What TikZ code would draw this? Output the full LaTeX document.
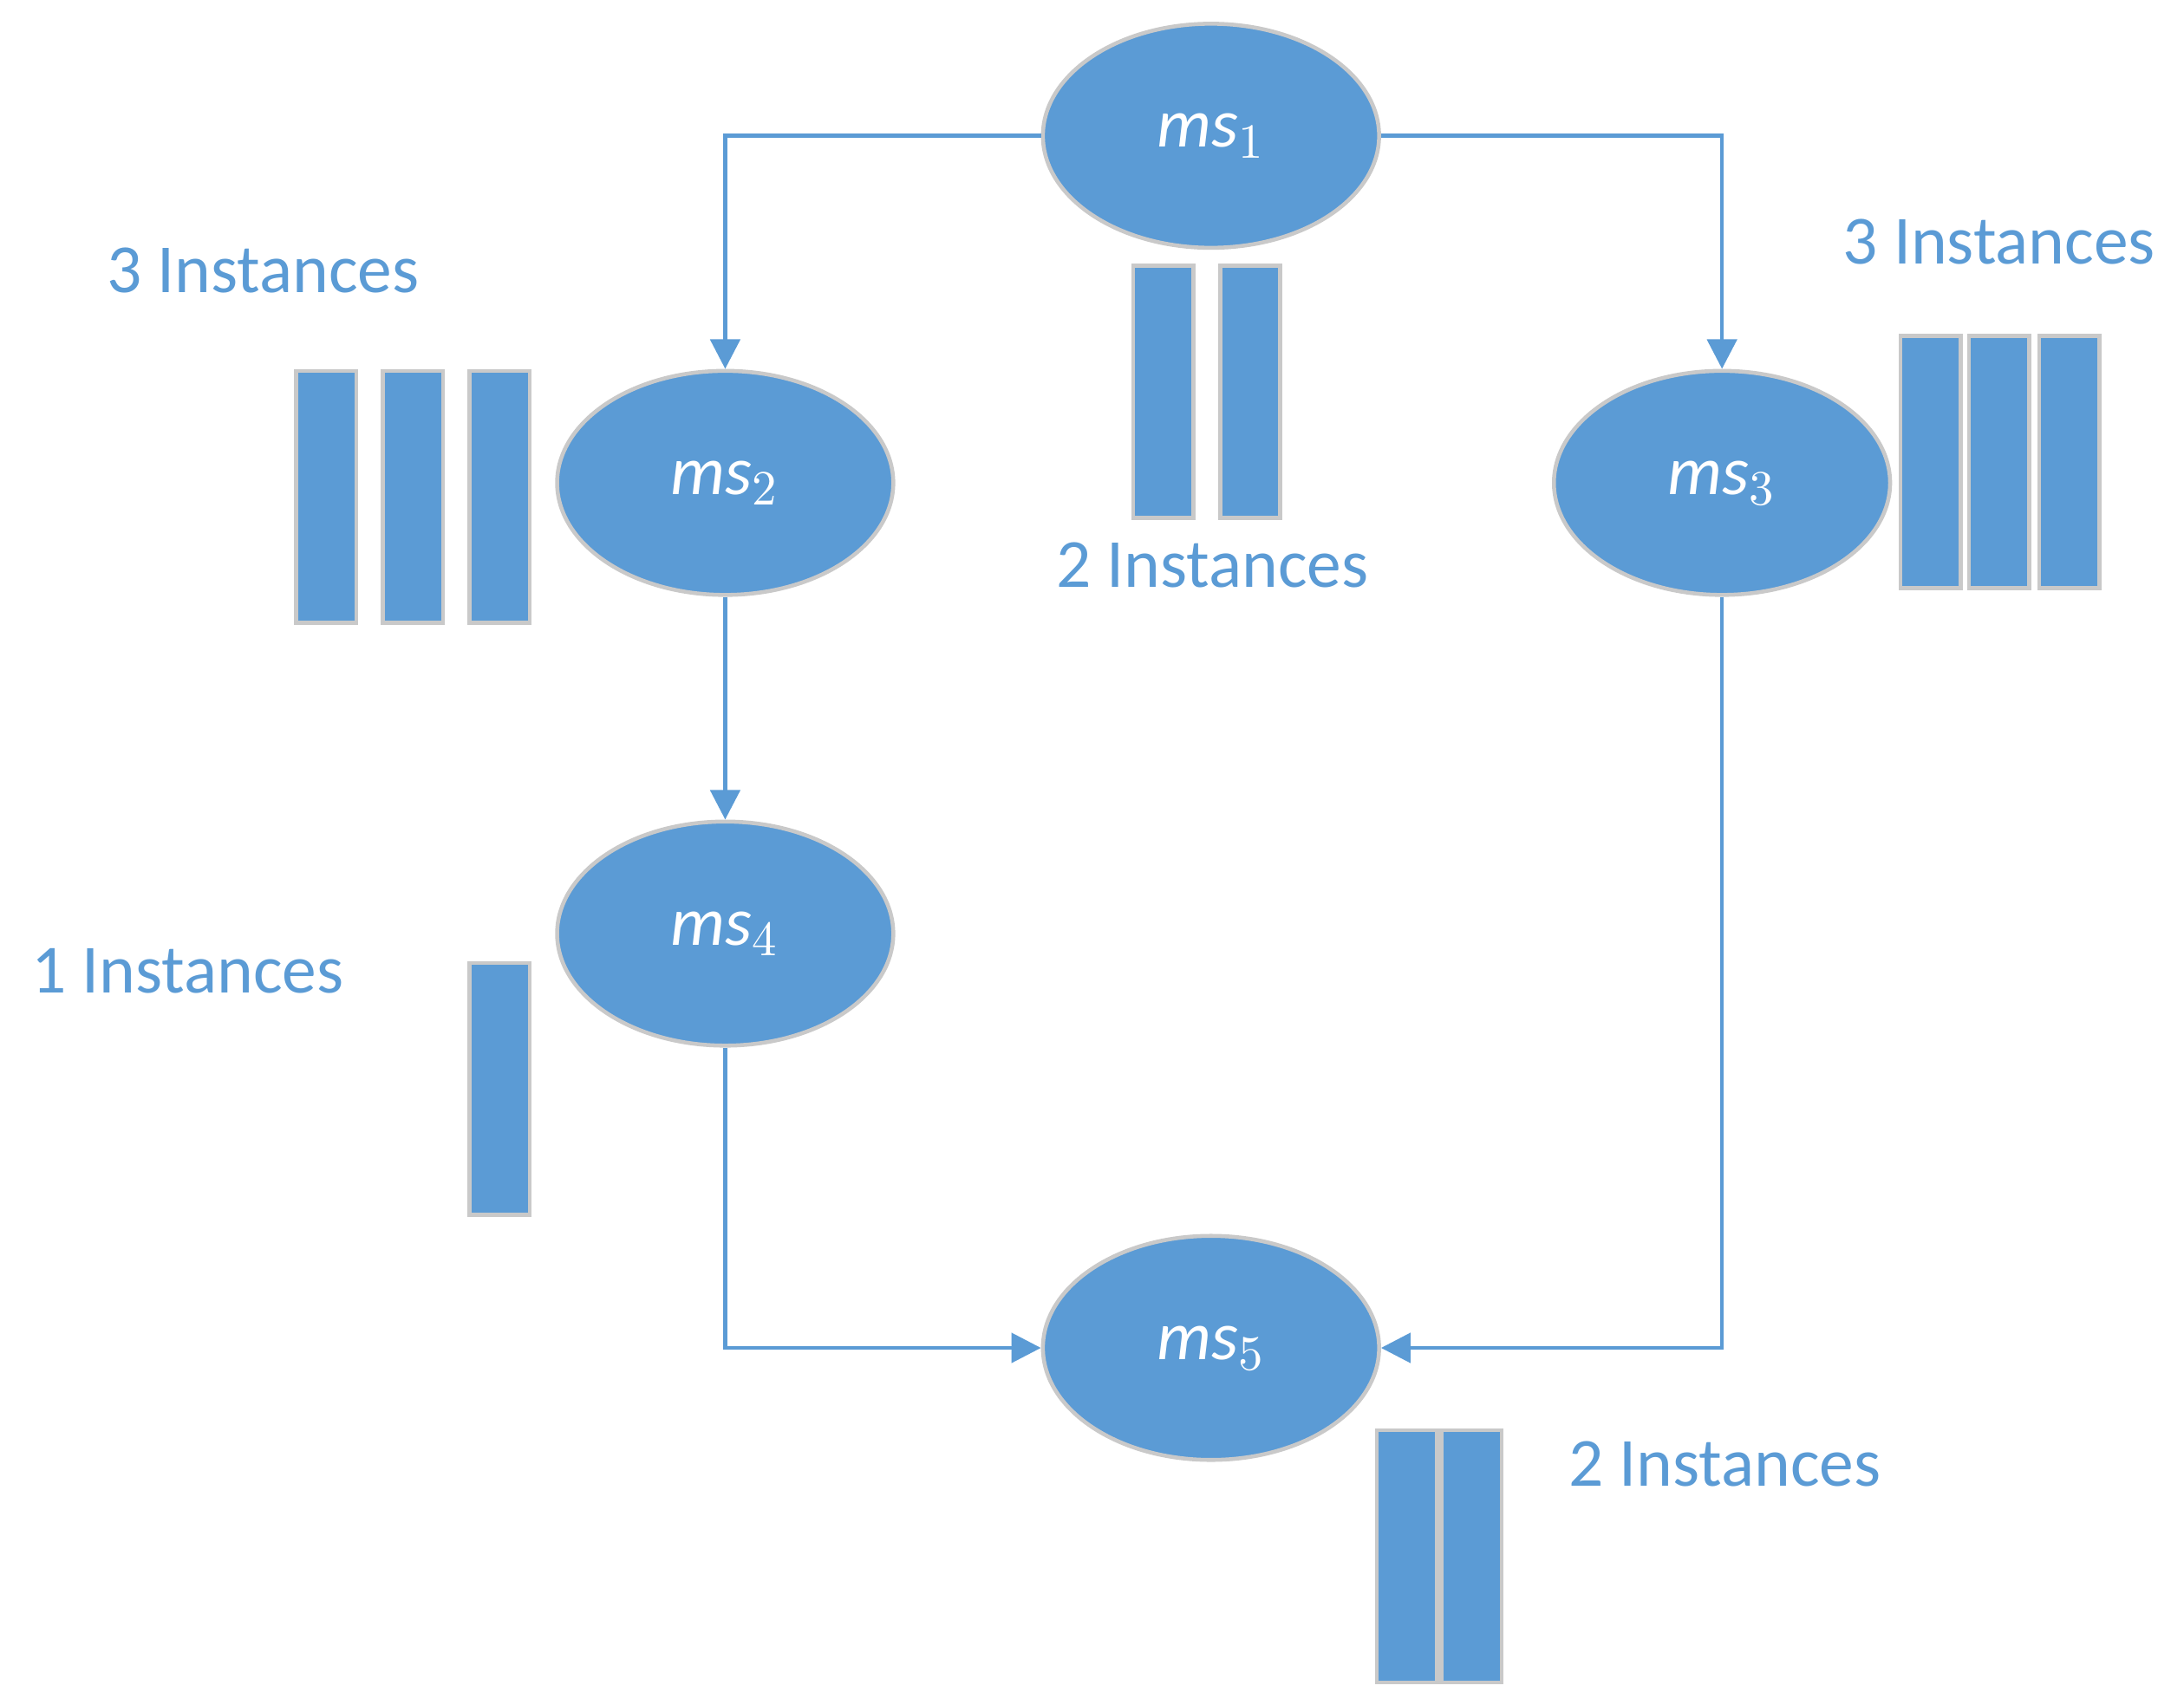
\documentclass[tikz,border=0pt]{standalone}
\usepackage{fontspec}
\setmainfont{Carlito}
\usepackage{tikz}
\usetikzlibrary{arrows.meta,positioning,calc,shapes.geometric}
\definecolor{msblue}{HTML}{5B9BD5}
\definecolor{msedge}{HTML}{C9C9C9}
\begin{document}
\begin{tikzpicture}[
    x=0.01cm,y=-0.01cm,
    service/.style={
        ellipse,
        draw=msedge,
        fill=msblue,
        line width=0.8pt,
        minimum width=2.4cm,
        minimum height=1.6cm,
        text=white,
        font=\fontsize{14}{16}\selectfont\itshape
    },
    inst/.style={
        rectangle,
        draw=msedge,
        fill=msblue,
        line width=0.8pt,
        inner sep=0pt,
        minimum width=0.43cm,
        minimum height=1.8cm
    },
    count/.style={text=msblue,font=\fontsize{14}{16}\selectfont},
    arrow/.style={-{Triangle[length=6pt,width=6pt]},draw=msblue,line width=0.8pt}
]
    \useasboundingbox (0,0) rectangle (1560,1218);
    % Services
    \node[service] (ms1) at (865,97) {ms$_1$};
    \node[service] (ms2) at (518,345) {ms$_2$};
    \node[service] (ms3) at (1230,345) {ms$_3$};
    \node[service] (ms4) at (518,667) {ms$_4$};
    \node[service] (ms5) at (865,963) {ms$_5$};

    % Instances
    \node[inst] (i1a) at (831,280) {};
    \node[inst] (i1b) at (893,280) {};
    \node[inst] (i2a) at (233,355) {};
    \node[inst] (i2b) at (295,355) {};
    \node[inst] (i2c) at (357,355) {};
    \node[inst] (i3a) at (1379,330) {};
    \node[inst] (i3b) at (1428,330) {};
    \node[inst] (i3c) at (1478,330) {};
    \node[inst] (i4a) at (357,778) {};
    \node[inst] (i5a) at (1005,1112) {};
    \node[inst] (i5b) at (1051,1112) {};

    % Labels
    \node[count] (c1) at (866,404) {2 Instances};
    \node[count] (c2) at (188,193) {3 Instances};
    \node[count] (c3) at (1428,173) {3 Instances};
    \node[count] (c4) at (134,694) {1 Instances};
    \node[count] (c5) at (1232,1046) {2 Instances};

    % Arrows
    \draw[arrow] (ms1.west) -| (ms2.north);
    \draw[arrow] (ms1.east) -| (ms3.north);
    \draw[arrow] (ms2) -- (ms4);
    \draw[arrow] (ms4.south) |- (ms5.west);
    \draw[arrow] (ms3.south) |- (ms5.east);
\end{tikzpicture}
\end{document}
